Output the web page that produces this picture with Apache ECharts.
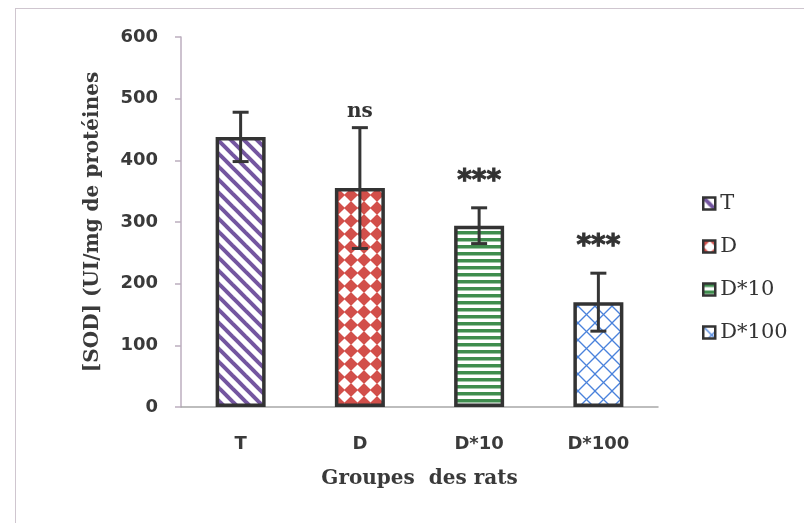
<!DOCTYPE html>
<html>
<head>
<meta charset="utf-8">
<script src="https://cdn.jsdelivr.net/npm/echarts@6/dist/echarts.min.js"></script>
<style>
html,body{margin:0;padding:0;background:#fff;}
#wrap{position:relative;width:804px;height:523px;overflow:hidden;}
#frame{position:absolute;left:15px;top:8px;width:800px;height:530px;border-left:1.5px solid #cfc6cf;border-top:1.5px solid #cfc6cf;pointer-events:none;}
#chart{position:absolute;left:0;top:0;width:804px;height:523px;}
</style>
</head>
<body>
<div id="wrap"><div id="chart"></div><div id="frame"></div></div>
<script>
// ---- data ----
const categories = ['T', 'D', 'D*10', 'D*100'];
const means = [438, 355, 294, 170];
const errors = [40, 98, 29, 47];
const sigLabels = ['', 'ns', '***', '***'];
const yMin = 0, yMax = 600, yInterval = 100;

// ---- patterns ----
function mk(w, h, draw) {
  const c = document.createElement('canvas');
  c.width = w; c.height = h;
  draw(c.getContext('2d'), w, h);
  return { image: c, repeat: 'repeat' };
}
const patT = mk(13, 13, (g, w) => {
  g.fillStyle = '#fff'; g.fillRect(0, 0, w, w);
  g.strokeStyle = '#7456a0'; g.lineWidth = 4;
  for (let k = -1; k <= 1; k++) {
    g.beginPath(); g.moveTo(k * w - 2, -2); g.lineTo(k * w + w + 2, w + 2); g.stroke();
  }
});
const patD = mk(13, 13, (g, w) => {
  g.fillStyle = '#d24f4a'; g.fillRect(0, 0, w, w);
  g.fillStyle = '#fff';
  const r = w * 0.47;
  const c = w / 2;
  g.beginPath(); g.moveTo(c, c - r); g.lineTo(c + r, c); g.lineTo(c, c + r); g.lineTo(c - r, c); g.closePath(); g.fill();
});
const patD10 = mk(4, 7, (g) => {
  g.fillStyle = '#fff'; g.fillRect(0, 0, 4, 7);
  g.fillStyle = '#3f8d4e'; g.fillRect(0, 0, 4, 3.5);
});
const patD100 = mk(17, 17, (g, w) => {
  g.fillStyle = '#fff'; g.fillRect(0, 0, w, w);
  g.strokeStyle = '#4a82dc'; g.lineWidth = 1.3;
  for (let k = -1; k <= 1; k++) {
    g.beginPath(); g.moveTo(k * w, 0); g.lineTo(k * w + w, w); g.stroke();
    g.beginPath(); g.moveTo(k * w + w, 0); g.lineTo(k * w, w); g.stroke();
  }
});
const patterns = [patT, patD, patD10, patD100];

const barSeries = categories.map((name, i) => ({
  type: 'bar',
  name: name,
  data: categories.map((c, j) => (j === i ? means[i] : '-')),
  barWidth: 50,
  barGap: '-100%',
  itemStyle: { color: patterns[i], borderColor: '#333', borderWidth: 3.5 },
  emphasis: { disabled: true }
}));

const errSeries = {
  type: 'custom',
  name: 'err',
  z: 10,
  encode: { x: 0, y: 1 },
  data: categories.map((c, i) => [i, means[i], errors[i]]),
  renderItem: function (params, api) {
    const x = api.value(0), m = api.value(1), e = api.value(2);
    const sig = sigLabels[params.dataIndex];
    const top = api.coord([x, m + e]);
    const bot = api.coord([x, m - e]);
    const cap = 8;
    const ls = { stroke: '#353535', lineWidth: 3 };
    const children = [
      { type: 'line', shape: { x1: top[0], y1: top[1], x2: bot[0], y2: bot[1] }, style: ls },
      { type: 'line', shape: { x1: top[0] - cap, y1: top[1], x2: top[0] + cap, y2: top[1] }, style: ls },
      { type: 'line', shape: { x1: bot[0] - cap, y1: bot[1], x2: bot[0] + cap, y2: bot[1] }, style: ls }
    ];
    if (sig) {
      const star = sig.indexOf('*') >= 0;
      children.push({
        type: 'text',
        x: top[0],
        y: top[1] - (star ? 12 : 6),
        style: {
          text: sig,
          fill: '#333',
          font: star ? 'bold 28px "DejaVu Sans"' : 'bold 20px "DejaVu Serif"',
          align: 'center',
          verticalAlign: 'bottom',
          stroke: star ? '#333' : null,
          lineWidth: star ? 1 : 0
        }
      });
    }
    return { type: 'group', children: children };
  }
};

const chart = echarts.init(document.getElementById('chart'));
chart.setOption({
  animation: false,
  backgroundColor: 'transparent',
  grid: { left: 181, right: 146, top: 37, bottom: 116, containLabel: false },
  legend: {
    data: categories,
    orient: 'vertical',
    left: 697,
    top: 188,
    itemWidth: 12,
    itemHeight: 12,
    itemGap: 22,
    icon: 'rect',
    itemStyle: { borderWidth: 2.5, borderColor: '#333' },
    textStyle: { fontFamily: 'DejaVu Serif', fontSize: 21, color: '#333' },
    selectedMode: false
  },
  xAxis: {
    type: 'category',
    data: categories,
    axisLine: { lineStyle: { color: '#a8a8a8', width: 1.5 } },
    axisTick: { show: false },
    axisLabel: { margin: 28, fontFamily: 'DejaVu Sans', fontWeight: 'bold', fontSize: 18, color: '#3a3a3a' },
    name: 'Groupes  des rats',
    nameLocation: 'middle',
    nameGap: 62,
    nameTextStyle: { fontFamily: 'DejaVu Serif', fontWeight: 'bold', fontSize: 20, color: '#3a3a3a' }
  },
  yAxis: {
    type: 'value',
    min: yMin,
    max: yMax,
    interval: yInterval,
    axisLine: { show: true, lineStyle: { color: '#bcaebf', width: 1.5 } },
    axisTick: { show: true, length: 6, lineStyle: { color: '#bcaebf', width: 1.5 } },
    splitLine: { show: false },
    axisLabel: { margin: 23, fontFamily: 'DejaVu Sans', fontWeight: 'bold', fontSize: 18, color: '#3a3a3a' },
    name: '[SOD] (UI/mg de protéines',
    nameLocation: 'middle',
    nameRotate: 90,
    nameGap: 78,
    nameTextStyle: { fontFamily: 'DejaVu Serif', fontWeight: 'bold', fontSize: 20, color: '#3a3a3a' }
  },
  series: barSeries.concat([errSeries])
});
</script>
</body>
</html>
